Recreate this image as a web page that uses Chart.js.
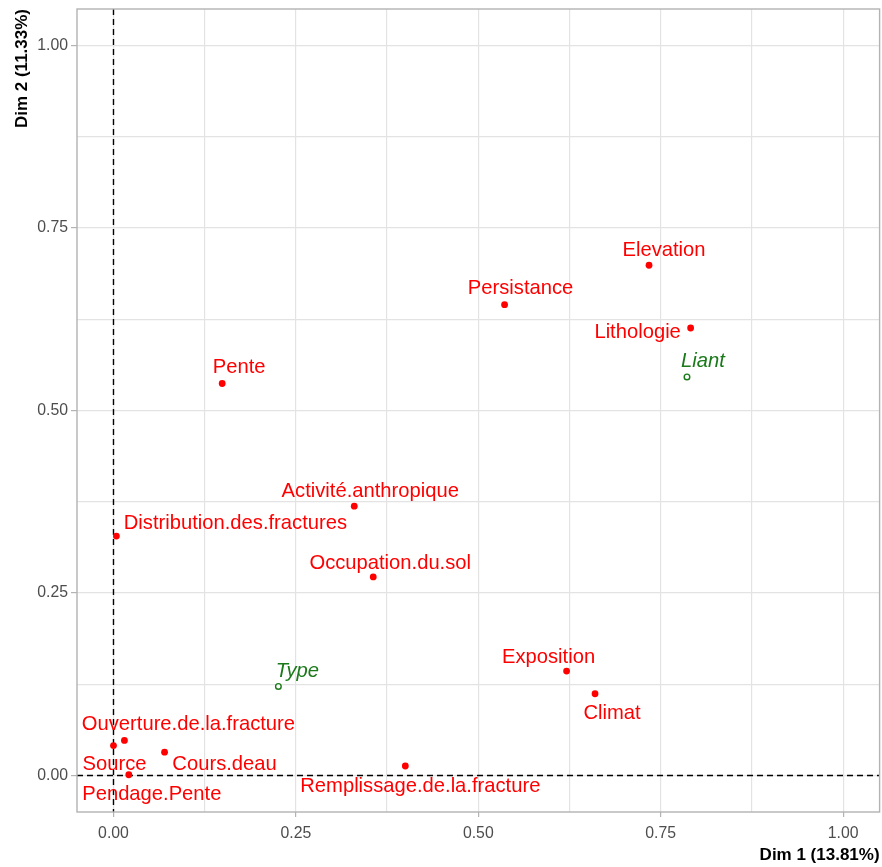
<!DOCTYPE html>
<html>
<head>
<meta charset="utf-8">
<script src="https://cdn.jsdelivr.net/npm/chart.js@4/dist/chart.umd.min.js"></script>
<style>
  html, body { margin: 0; padding: 0; background: #ffffff; overflow: hidden; }
  #wrap { width: 882px; height: 867px; position: relative; overflow: hidden; }
  #c { display: block; }
</style>
</head>
<body>
<div id="wrap"><canvas id="c" width="885" height="867"></canvas></div>
<script>
// ---- data (active variables) ----
const activeNames = [
  'Elevation', 'Persistance', 'Lithologie', 'Pente', 'Activité.anthropique',
  'Distribution.des.fractures', 'Occupation.du.sol', 'Exposition', 'Climat',
  'Ouverture.de.la.fracture', 'Source', 'Cours.deau', 'Pendage.Pente',
  'Remplissage.de.la.fracture'
];
const activeDim1 = [0.734, 0.536, 0.791, 0.149, 0.330, 0.004, 0.356, 0.621, 0.660, 0.015, 0.000, 0.070, 0.021, 0.400];
const activeDim2 = [0.699, 0.645, 0.613, 0.537, 0.369, 0.328, 0.272, 0.143, 0.112, 0.048, 0.041, 0.032, 0.001, 0.013];

// ---- data (supplementary variables) ----
const suppNames = ['Liant', 'Type'];
const suppDim1 = [0.786, 0.226];
const suppDim2 = [0.546, 0.122];

// ---- axes ----
const axisTicks = [0, 0.25, 0.5, 0.75, 1.0];
const xTitle = 'Dim 1 (13.81%)';
const yTitle = 'Dim 2 (11.33%)';

// ---- label offsets (pixels, text centre relative to point) ----
const activeLabelOffsets = [
  [15, -15], [16, -16], [-53, 4], [17, -16], [16, -15],
  [119, -13], [17, -14], [-18, -14], [17, 20],
  [64, -16], [1, 19], [60, 12], [23, 20], [15, 20]
];
const suppLabelOffsets = [[16, -16], [19, -15]];

const RED = '#ff0000';
const GREEN = '#1a7a1a';

function pts(xs, ys) { return xs.map((x, i) => ({ x: x, y: ys[i] })); }

const isMajor = v => axisTicks.some(t => Math.abs(t - v) < 1e-6);

const panelPlugin = {
  id: 'panel',
  beforeDatasetsDraw(chart) {
    const { ctx, chartArea: a, scales } = chart;
    ctx.save();
    ctx.strokeStyle = '#000000';
    ctx.lineWidth = 1.4;
    ctx.setLineDash([6, 4]);
    const x0 = scales.x.getPixelForValue(0);
    const y0 = scales.y.getPixelForValue(0);
    ctx.beginPath();
    ctx.moveTo(a.left, y0); ctx.lineTo(a.right, y0);
    ctx.moveTo(x0, a.top); ctx.lineTo(x0, a.bottom);
    ctx.stroke();
    ctx.restore();
  },
  afterDatasetsDraw(chart) {
    const { ctx, chartArea: a } = chart;
    ctx.save();
    const font = '20.2px "Liberation Sans", Arial, sans-serif';
    const drawLabels = (dsIndex, names, offsets, color, italic) => {
      const meta = chart.getDatasetMeta(dsIndex);
      ctx.fillStyle = color;
      ctx.font = (italic ? 'italic ' : '') + font;
      ctx.textAlign = 'center';
      ctx.textBaseline = 'middle';
      meta.data.forEach((el, i) => {
        const o = offsets[i] || [0, -15];
        ctx.fillText(names[i], el.x + o[0], el.y + o[1]);
      });
    };
    drawLabels(0, activeNames, activeLabelOffsets, RED, false);
    drawLabels(1, suppNames, suppLabelOffsets, GREEN, true);
    ctx.strokeStyle = '#b3b3b3';
    ctx.lineWidth = 1.4;
    ctx.setLineDash([]);
    ctx.strokeRect(a.left, a.top, a.right - a.left, a.bottom - a.top);
    ctx.restore();
  }
};

const tickFont = { family: '"Liberation Sans", Arial, sans-serif', size: 15.8 };
const titleFont = { family: '"Liberation Sans", Arial, sans-serif', size: 17, weight: 'bold' };

function axisCfg(isX) {
  return {
    type: 'linear',
    min: -0.05,
    max: 1.05,
    afterBuildTicks(scale) {
      const t = [];
      for (let v = 0; v <= 1.0001; v += 0.125) t.push({ value: Math.round(v * 1000) / 1000 });
      scale.ticks = t;
    },
    afterFit(scale) {
      if (isX) scale.height = 55; else scale.width = 77;
      scale.paddingLeft = 0; scale.paddingRight = 0;
      scale.paddingTop = 0; scale.paddingBottom = 0;
    },
    grid: {
      color: '#e3e3e3',
      lineWidth: 1.2,
      tickLength: isX ? 5 : 6,
      tickColor: ctx => (ctx.tick && isMajor(ctx.tick.value)) ? '#b3b3b3' : 'rgba(0,0,0,0)',
      tickWidth: 1.2
    },
    border: { display: false },
    ticks: {
      color: '#4d4d4d',
      font: tickFont,
      padding: isX ? 7 : 3,
      autoSkip: false,
      maxRotation: 0,
      callback: v => isMajor(v) ? v.toFixed(2) : ''
    },
    title: {
      display: true,
      text: isX ? xTitle : yTitle,
      align: 'end',
      color: '#000000',
      font: titleFont,
      padding: isX ? { top: 0, bottom: 1 } : { top: 12, bottom: 0 }
    }
  };
}

new Chart(document.getElementById('c'), {
  type: 'scatter',
  data: {
    datasets: [
      {
        label: 'active',
        data: pts(activeDim1, activeDim2),
        backgroundColor: RED,
        borderColor: RED,
        pointRadius: 3.4,
        borderWidth: 0
      },
      {
        label: 'supplementary',
        data: pts(suppDim1, suppDim2),
        backgroundColor: '#ffffff',
        borderColor: GREEN,
        pointRadius: 2.8,
        borderWidth: 1.4
      }
    ]
  },
  options: {
    responsive: false,
    animation: false,
    layout: { padding: { top: 9, right: 1.6, left: 0, bottom: 0 } },
    plugins: { legend: { display: false }, tooltip: { enabled: false } },
    scales: { x: axisCfg(true), y: axisCfg(false) }
  },
  plugins: [panelPlugin]
});
</script>
</body>
</html>
